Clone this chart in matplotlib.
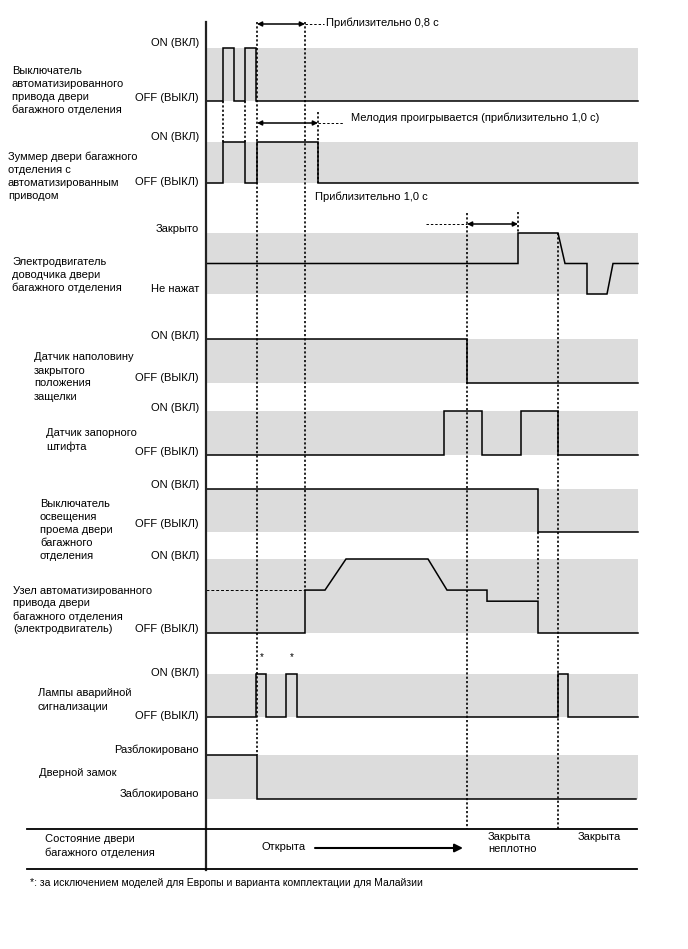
import matplotlib
matplotlib.use("Agg")
import matplotlib.pyplot as plt

plt.rcParams["font.family"] = ["Liberation Sans", "DejaVu Sans"]
plt.rcParams["font.size"] = 8

# ── signal data (time measured from the start line, levels 0=OFF .. 1=ON) ──
T_END = 432

switch_edges = [0, 17, 28, 39, 50]
switch_levels = [0, 1, 0, 1, 0]

buzzer_edges = [0, 17, 39, 51, 112]
buzzer_levels = [0, 1, 0, 1, 0]

closer_t = [0, 312, 312, 352, 359, 381, 381, 401, 407, T_END]
closer_v = [0.5, 0.5, 1, 1, 0.5, 0.5, 0, 0, 0.5, 0.5]

half_edges = [0, 261]
half_levels = [1, 0]

pin_edges = [0, 238, 276, 315, 352]
pin_levels = [0, 1, 0, 1, 0]

light_edges = [0, 332]
light_levels = [1, 0]

motor_t = [0, 99, 99, 119, 140, 222, 241, 281, 281, 332, 332, T_END]
motor_v = [0, 0, 0.58, 0.58, 1, 1, 0.58, 0.58, 0.43, 0.43, 0, 0]

hazard_edges = [0, 50, 60, 80, 91, 352, 362]
hazard_levels = [0, 1, 0, 1, 0, 1, 0]

lock_edges = [0, 51]
lock_levels = [1, 0]
LOCK_END = 430

# event markers: (time, from y, to y)
event_lines = [(17, 101, 142), (39, 101, 142), (51, 22, 755), (99, 22, 590),
               (112, 112, 183), (261, 213, 829), (312, 212, 233),
               (352, 233, 829), (332, 532, 601)]

# ── layout (figure pixels, y down) ─────────────────────────
X0 = 206            # start line position
BAND_COLOR = "#dcdcdc"
LINE_STEP = 13      # px between label lines
rows = {
    "switch": (48, 101), "buzzer": (142, 183), "closer": (233, 294),
    "half": (339, 383), "pin": (411, 455), "light": (489, 532),
    "motor": (559, 633), "hazard": (674, 717), "lock": (755, 799),
}

left_labels = [
    (["Выключатель", "автоматизированного", "привода двери", "багажного отделения"], 12, 90),
    (["Зуммер двери багажного", "отделения с", "автоматизированным", "приводом"], 8, 176),
    (["Электродвигатель", "доводчика двери", "багажного отделения"], 12, 275),
    (["Датчик наполовину", "закрытого", "положения", "защелки"], 34, 377),
    (["Датчик запорного", "штифта"], 46, 440),
    (["Выключатель", "освещения", "проема двери", "багажного", "отделения"], 40, 530),
    (["Узел автоматизированного", "привода двери", "багажного отделения",
      "(электродвигатель)"], 13, 610),
    (["Лампы аварийной", "сигнализации"], 38, 700),
    (["Дверной замок"], 39, 773),
    (["Состояние двери", "багажного отделения"], 45, 846),
]

right_labels = [
    ("ON (ВКЛ)", 43), ("OFF (ВЫКЛ)", 98),
    ("ON (ВКЛ)", 137), ("OFF (ВЫКЛ)", 182),
    ("Закрыто", 229), ("Не нажат", 289),
    ("ON (ВКЛ)", 336), ("OFF (ВЫКЛ)", 378),
    ("ON (ВКЛ)", 408), ("OFF (ВЫКЛ)", 452),
    ("ON (ВКЛ)", 485), ("OFF (ВЫКЛ)", 524),
    ("ON (ВКЛ)", 556), ("OFF (ВЫКЛ)", 629),
    ("ON (ВКЛ)", 673), ("OFF (ВЫКЛ)", 716),
    ("Разблокировано", 750), ("Заблокировано", 794),
]

fig = plt.figure(figsize=(6.88, 9.49), dpi=100)
ax = fig.add_axes([0, 0, 1, 1])
ax.set_xlim(-X0, 688 - X0)
ax.set_ylim(949, 0)
ax.axis("off")


def to_y(row, level):
    top, bot = rows[row]
    return bot - level * (bot - top)


def draw_steps(row, edges, levels, end=T_END):
    xs = list(edges) + [end]
    ys = [to_y(row, v) for v in levels] + [to_y(row, levels[-1])]
    ax.step(xs, ys, where="post", color="black", lw=1.1, solid_joinstyle="miter")


def draw_path(row, ts, vs):
    ax.plot(ts, [to_y(row, v) for v in vs], color="black", lw=1.1,
            solid_joinstyle="miter")


def text_block(lines, x, yc, **kw):
    n = len(lines)
    for i, line in enumerate(lines):
        ax.text(x, yc + (i - (n - 1) / 2) * LINE_STEP, line, ha="left", va="center", **kw)


# gray bands
for top, bot in rows.values():
    ax.fill_between([0, T_END], top, bot, color=BAND_COLOR, lw=0, zorder=0)

# event markers
for t, y1, y2 in event_lines:
    ax.plot([t, t], [y1, y2], color="black", lw=1.2, ls=(0, (1.3, 1.3)), zorder=1)

draw_steps("switch", switch_edges, switch_levels)
draw_steps("buzzer", buzzer_edges, buzzer_levels)
draw_path("closer", closer_t, closer_v)
draw_steps("half", half_edges, half_levels)
draw_steps("pin", pin_edges, pin_levels)
draw_steps("light", light_edges, light_levels)
draw_path("motor", motor_t, motor_v)
draw_steps("hazard", hazard_edges, hazard_levels)
draw_steps("lock", lock_edges, lock_levels, end=LOCK_END)

# reference level of the motor
ax.plot([0, 99], [to_y("motor", 0.58)] * 2, color="black", lw=0.7, ls=(0, (3, 2)))

# start line and table
ax.plot([0, 0], [22, 870], color="#222222", lw=1.6)
for y in (829, 869):
    ax.plot([27 - X0, T_END - 1], [y, y], color="black", lw=1.3)

# duration arrows
arrow_kw = dict(arrowstyle="<|-|>", lw=1.1, color="black",
                mutation_scale=7, shrinkA=0, shrinkB=0)
for t1, t2, y, lead_from, lead_to in [(51, 99, 24, 99, 118),
                                       (51, 112, 123, 112, 138),
                                       (261, 312, 224, 220, 261)]:
    ax.annotate("", xy=(t2, y), xytext=(t1, y), arrowprops=arrow_kw)
    ax.plot([lead_from, lead_to], [y, y], color="black", lw=0.7, ls=(0, (2.5, 2)))

ax.text(326 - X0, 23, "Приблизительно 0,8 с", va="center", ha="left")
ax.text(351 - X0, 118, "Мелодия проигрывается (приблизительно 1,0 с)", va="center", ha="left")
ax.text(315 - X0, 197, "Приблизительно 1,0 с", va="center", ha="left")

for t in (56, 86):
    ax.text(t, 657, "*", ha="center", va="center", fontsize=7)

for lines, x, y in left_labels:
    text_block(lines, x - X0, y)
for text, y in right_labels:
    ax.text(-7, y, text, ha="right", va="center")

# door state row
ax.text(262 - X0, 847, "Открыта", ha="left", va="center")
ax.annotate("", xy=(257, 848), xytext=(109, 848),
            arrowprops=dict(arrowstyle="-|>", lw=1.5, color="black",
                            mutation_scale=12, shrinkA=0, shrinkB=0))
text_block(["Закрыта", "неплотно"], 488 - X0, 843)
ax.text(578 - X0, 837, "Закрыта", ha="left", va="center")

ax.text(30 - X0, 883, "*: за исключением моделей для Европы и варианта комплектации для Малайзии",
        ha="left", va="center", fontsize=7.5)

fig.savefig("out.png", dpi=100)
